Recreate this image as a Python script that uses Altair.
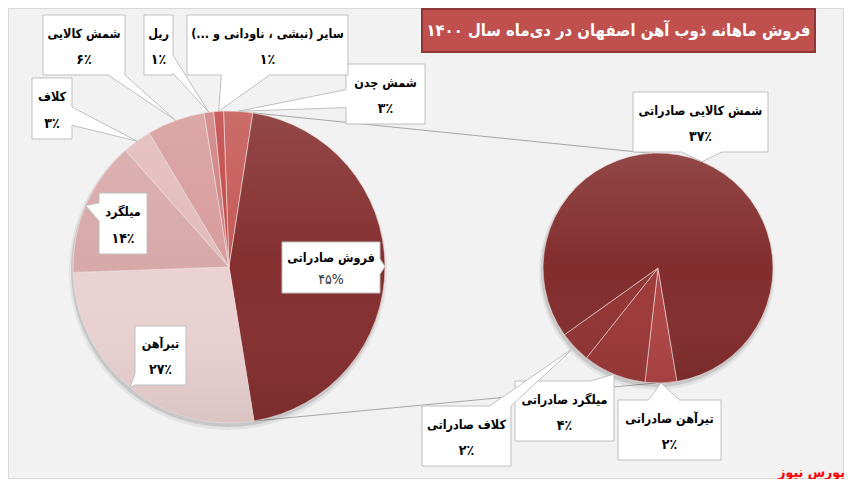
import math
import altair as alt
import pandas as pd

# ---------------- data ----------------
main_cats = ["شمش چدن", "فروش صادراتی", "تیرآهن", "میلگرد", "کلاف", "شمش کالایی", "ریل",
             "سایر (نبشی ، ناودانی و ...)"]
main_vals = [3, 45, 27, 14, 3, 6, 1, 1]
sub_cats = ["تیرآهن صادراتی", "میلگرد صادراتی", "کلاف صادراتی", "شمش کالایی صادراتی"]
sub_vals = [2, 4, 2, 37]
title_text = "فروش ماهانه ذوب آهن اصفهان در دی‌ماه سال ۱۴۰۰"
source_text = "بورس نیوز"

# ---------------- layout / style ----------------
W, H, M = 836, 471, 8
MAIN_CX, MAIN_CY, MAIN_R, MAIN_START = 229, 267, 156, -2.0
SUB_CX, SUB_CY, SUB_R, SUB_START = 658, 268, 115, 170.5
EXPORT_IDX = 1

main_colors = ["#c45956", "#852f2f", "#ebd2d2", "#d8a9a9", "#e3bcbc", "#d89c9c", "#d08181", "#c34747"]
sub_colors = ["#b04545", "#9d3939", "#923434", "#832d2d"]

main_boxes = [(346, 64, 425, 124), (282, 242, 380, 293), (135, 326, 186, 385), (99, 193, 147, 254),
              (32, 78, 72, 139), (43, 15, 125, 75), (144, 15, 173, 75), (187, 15, 348, 75)]
sub_boxes = [(618, 400, 721, 460), (515, 381, 614, 441), (422, 406, 511, 466), (633, 92, 768, 152)]

FONT = "DejaVu Sans Condensed, DejaVu Sans"
XS = alt.Scale(domain=[M, M + W], nice=False, zero=False)
YS = alt.Scale(domain=[M, M + H], reverse=True, nice=False, zero=False)

FA = str.maketrans("0123456789", "۰۱۲۳۴۵۶۷۸۹")


def fa(n):
    return str(n).translate(FA)


def rtl(s):
    return "\u200f" + s + "\u200f"


def slice_angle(vals, start, frac_pos):
    return math.radians(start + 360.0 * frac_pos / sum(vals))


def mid_points(vals, start, cx, cy, r):
    out, acc = [], 0
    for v in vals:
        a = slice_angle(vals, start, acc + v / 2)
        out.append((cx + r * math.sin(a), cy - r * math.cos(a)))
        acc += v
    return out


def callout_path(box, tip):
    x1, y1, x2, y2 = box
    cx, cy = (x1 + x2) / 2, (y1 + y2) / 2
    tx, ty = tip
    dx, dy = tx - cx, ty - cy
    best = None
    for edge in ("top", "right", "bottom", "left"):
        if edge in ("top", "bottom") and dy != 0:
            yy = y1 if edge == "top" else y2
            s = (yy - cy) / dy
            if s > 0:
                xx = cx + s * dx
                if x1 <= xx <= x2 and (best is None or s < best[0]):
                    best = (s, edge, xx, yy)
        if edge in ("left", "right") and dx != 0:
            xx = x1 if edge == "left" else x2
            s = (xx - cx) / dx
            if s > 0:
                yy = cy + s * dy
                if y1 <= yy <= y2 and (best is None or s < best[0]):
                    best = (s, edge, xx, yy)
    _, edge, px, py = best
    pts = [(x1, y1)]
    if edge == "top":
        h = 0.15 * (x2 - x1)
        a, b = max(x1, px - h), min(x2, px + h)
        pts += [(a, y1), (tx, ty), (b, y1)]
    pts.append((x2, y1))
    if edge == "right":
        h = 0.15 * (y2 - y1)
        a, b = max(y1, py - h), min(y2, py + h)
        pts += [(x2, a), (tx, ty), (x2, b)]
    pts.append((x2, y2))
    if edge == "bottom":
        h = 0.15 * (x2 - x1)
        a, b = min(x2, px + h), max(x1, px - h)
        pts += [(a, y2), (tx, ty), (b, y2)]
    pts.append((x1, y2))
    if edge == "left":
        h = 0.15 * (y2 - y1)
        a, b = min(y2, py + h), max(y1, py - h)
        pts += [(x1, a), (tx, ty), (x1, b)]
    d = "M" + " L".join(f"{x - cx:.2f},{y - cy:.2f}" for x, y in pts) + " Z"
    return cx, cy, d


def pie_layer(cats, vals, colors, start, cx, cy, r):
    df = pd.DataFrame({"cat": cats, "val": vals, "ord": list(range(len(cats)))})
    s = math.radians(start)
    return alt.Chart(df).mark_arc(radius=r, stroke="#f3e3e3", strokeWidth=0.6).encode(
        theta=alt.Theta("val:Q", stack=True,
                        scale=alt.Scale(domain=[0, sum(vals)], range=[s, s + 2 * math.pi])),
        order=alt.Order("ord:Q"),
        color=alt.Color("cat:N", scale=alt.Scale(domain=cats, range=colors), legend=None),
        x=alt.value(cx - M), y=alt.value(cy - M),
    )


one = pd.DataFrame({"k": [0]})


def disc(cx, cy, r, color, opacity=1.0):
    return alt.Chart(one).mark_arc(theta=0, theta2=2 * math.pi, radius=r, color=color,
                                   opacity=opacity).encode(
        x=alt.value(cx - M), y=alt.value(cy - M))


overlay_grad = alt.Gradient(
    gradient="linear", x1=0, y1=0, x2=0, y2=1,
    stops=[alt.GradientStop(color="rgba(255,255,255,0.12)", offset=0),
           alt.GradientStop(color="rgba(255,255,255,0.0)", offset=0.5),
           alt.GradientStop(color="rgba(0,0,0,0.07)", offset=1)])

# connectors between pies
a0 = slice_angle(main_vals, MAIN_START, sum(main_vals[:EXPORT_IDX]))
a1 = slice_angle(main_vals, MAIN_START, sum(main_vals[:EXPORT_IDX + 1]))
b0, b1 = math.radians(-4), math.radians(181)
conn = pd.DataFrame({
    "x": [MAIN_CX + MAIN_R * math.sin(a0), MAIN_CX + MAIN_R * math.sin(a1)],
    "y": [MAIN_CY - MAIN_R * math.cos(a0), MAIN_CY - MAIN_R * math.cos(a1)],
    "x2": [SUB_CX + SUB_R * math.sin(b0), SUB_CX + SUB_R * math.sin(b1)],
    "y2": [SUB_CY - SUB_R * math.cos(b0), SUB_CY - SUB_R * math.cos(b1)],
})
conn_layer = alt.Chart(conn).mark_rule(color="#a6a6a6", strokeWidth=1).encode(
    x=alt.X("x:Q", scale=XS, axis=None), y=alt.Y("y:Q", scale=YS, axis=None),
    x2="x2:Q", y2="y2:Q")

# labels
main_tips = mid_points(main_vals, MAIN_START, MAIN_CX, MAIN_CY, MAIN_R)
sub_tips = mid_points(sub_vals, SUB_START, SUB_CX, SUB_CY, SUB_R)

rows = []
for cat, v, box, tip in zip(main_cats, main_vals, main_boxes, main_tips):
    rows.append((cat, v, box, tip, cat == main_cats[EXPORT_IDX]))
for cat, v, box, tip in zip(sub_cats, sub_vals, sub_boxes, sub_tips):
    rows.append((cat, v, box, tip, False))

cal, names, pcts, pcts_plain = [], [], [], []
for cat, v, box, tip, plain in rows:
    cx, cy, d = callout_path(box, tip)
    cal.append({"bx": cx, "by": cy, "path": d})
    x1, y1, x2, y2 = box
    h = y2 - y1
    names.append({"tx": cx, "ty": y1 + 0.31 * h, "t": rtl(cat)})
    if plain:
        pcts_plain.append({"tx": cx, "ty": y1 + 0.75 * h, "t": fa(v) + "%"})
    else:
        pcts.append({"tx": cx, "ty": y1 + 0.75 * h, "t": fa(v) + "٪"})

callout_layer = alt.Chart(pd.DataFrame(cal)).mark_point(
    filled=True, fill="white", stroke="#bfbfbf", strokeWidth=1, size=4, opacity=1).encode(
    x=alt.X("bx:Q", scale=XS, axis=None), y=alt.Y("by:Q", scale=YS, axis=None),
    shape=alt.Shape("path:N", scale=None))


def text_layer(rows_, size, weight="bold", color="black"):
    return alt.Chart(pd.DataFrame(rows_)).mark_text(
        font=FONT, fontSize=size, fontWeight=weight, color=color, align="center",
        baseline="middle").encode(
        x=alt.X("tx:Q", scale=XS, axis=None), y=alt.Y("ty:Q", scale=YS, axis=None), text="t:N")


name_layer = text_layer(names, 12.5)
pct_layer = text_layer(pcts, 14)
pct_plain_layer = text_layer(pcts_plain, 14, weight="normal", color="#333333")

# title
title_df = pd.DataFrame({"x": [422], "x2": [815], "y": [9], "y2": [52], "t": [rtl(title_text)]})
title_box = alt.Chart(title_df).mark_rect(fill="#c0504d", stroke="#8c3836", strokeWidth=2).encode(
    x=alt.X("x:Q", scale=XS, axis=None), x2="x2:Q",
    y=alt.Y("y:Q", scale=YS, axis=None), y2="y2:Q")
title_lbl = alt.Chart(title_df).mark_text(
    font=FONT, fontSize=16.5, fontWeight="bold", color="white", align="center",
    baseline="middle").encode(
    x=alt.X("xm:Q", scale=XS, axis=None), y=alt.Y("ym:Q", scale=YS, axis=None), text="t:N"
).transform_calculate(xm="(datum.x + datum.x2) / 2", ym="(datum.y + datum.y2) / 2")

src_df = pd.DataFrame({"x": [845], "y": [473], "t": [rtl(source_text)]})
src_lbl = alt.Chart(src_df).mark_text(
    font=FONT, fontSize=14, fontWeight="bold", color="#ff0000", align="right",
    baseline="middle").encode(
    x=alt.X("x:Q", scale=XS, axis=None), y=alt.Y("y:Q", scale=YS, axis=None), text="t:N")

chart = alt.layer(
    conn_layer,
    disc(MAIN_CX - 1, MAIN_CY + 4, MAIN_R + 3, "#000000", 0.06),
    disc(MAIN_CX - 1, MAIN_CY + 3, MAIN_R + 1, "#000000", 0.12),
    disc(SUB_CX - 1, SUB_CY + 4, SUB_R + 3, "#000000", 0.06),
    disc(SUB_CX - 1, SUB_CY + 3, SUB_R + 1, "#000000", 0.12),
    pie_layer(main_cats, main_vals, main_colors, MAIN_START, MAIN_CX, MAIN_CY, MAIN_R),
    pie_layer(sub_cats, sub_vals, sub_colors, SUB_START, SUB_CX, SUB_CY, SUB_R),
    disc(MAIN_CX, MAIN_CY, MAIN_R, overlay_grad),
    disc(SUB_CX, SUB_CY, SUB_R, overlay_grad),
    callout_layer,
    name_layer, pct_layer, pct_plain_layer,
    title_box, title_lbl, src_lbl,
).resolve_scale(theta="independent", color="independent").properties(
    width=W, height=H, autosize="none", padding=0, background="white"
).configure_view(fill="#f2f2f2", stroke="#d9d9d9", strokeWidth=2)

chart.save("out.html", embed_options={"renderer": "svg", "actions": False})
